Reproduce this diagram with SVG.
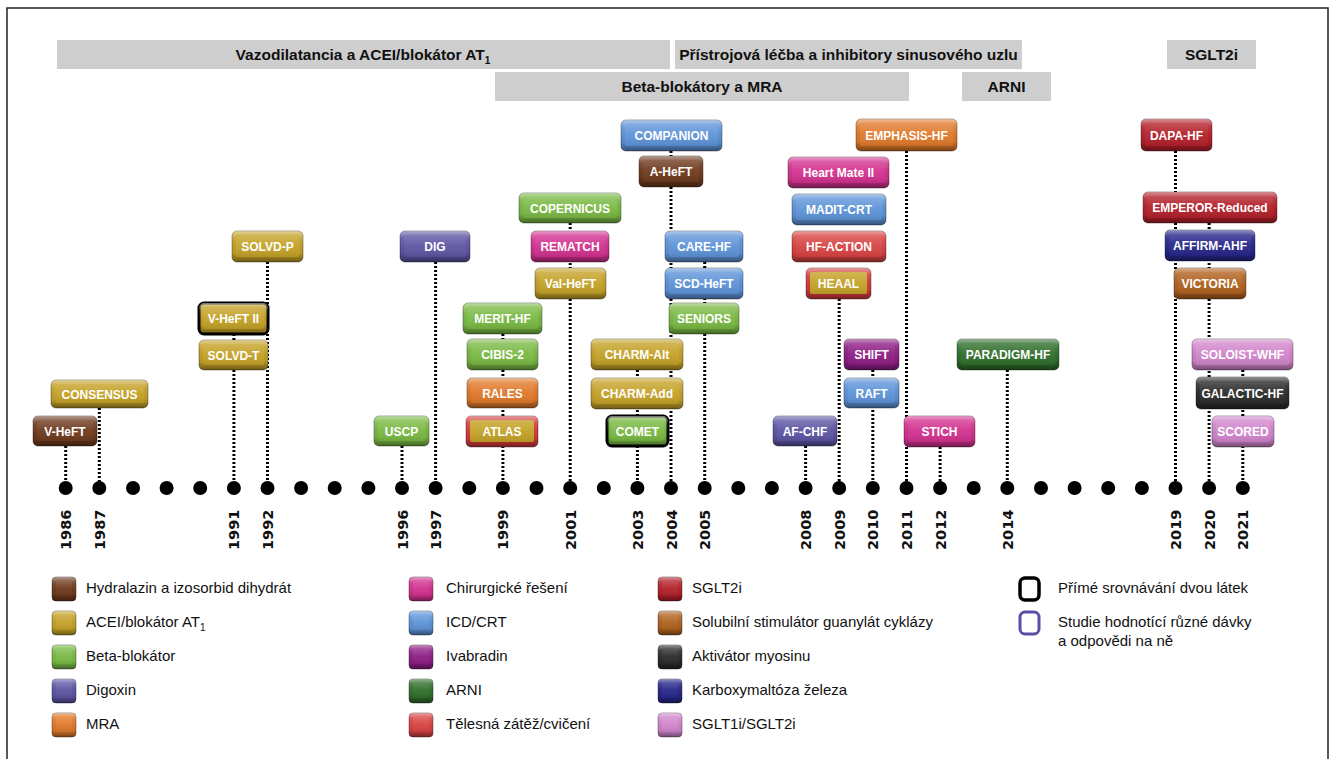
<svg xmlns="http://www.w3.org/2000/svg" width="1331" height="759" viewBox="0 0 1331 759">
<style>
.frame{fill:none;stroke:#222;stroke-width:1.5}
.band{fill:#cecece}
.bandtxt{font-family:"Liberation Sans",Arial,sans-serif;font-weight:bold;font-size:15.5px;fill:#111;text-anchor:middle}
.o{stroke:#000;stroke-opacity:.35;stroke-width:1}
.b{fill:url(#bev)}
.f{fill:url(#face)}
.node text{font-family:"Liberation Sans",Arial,sans-serif;font-weight:bold;font-size:12px;fill:#fff;text-anchor:middle}
.brown .o,.brown .i{fill:#6e3a1e}
.gold .o,.gold .i{fill:#c4a126}
.green .o,.green .i{fill:#79b943}
.slate .o,.slate .i{fill:#5d55a3}
.orange .o,.orange .i{fill:#e0792a}
.magenta .o,.magenta .i{fill:#d2318f}
.blue .o,.blue .i{fill:#5d93d8}
.purple .o,.purple .i{fill:#8e1d84}
.dgreen .o,.dgreen .i{fill:#2f6e2b}
.red .o,.red .i{fill:#d84242}
.dred .o,.dred .i{fill:#b3202a}
.sgc .o,.sgc .i{fill:#b0611f}
.black .o,.black .i{fill:#2b2b2b}
.navy .o,.navy .i{fill:#26268a}
.orchid .o,.orchid .i{fill:#d185cc}
.redrim .o{fill:#d63a3a}
.blackrim .o{stroke:#000;stroke-opacity:1;stroke-width:3}
#connectors line{stroke:#000;stroke-width:3;stroke-dasharray:2 2}
#dots circle{fill:#000}
.year{font-family:"DejaVu Sans",sans-serif;font-weight:bold;font-size:14.5px;fill:#111}
.leg{font-family:"Liberation Sans",Arial,sans-serif;font-size:15px;fill:#111}
</style>
<defs>
<linearGradient id="bev" x1="0" y1="0" x2="0" y2="1">
<stop offset="0" stop-color="#fff" stop-opacity="0.5"/>
<stop offset="0.22" stop-color="#fff" stop-opacity="0.12"/>
<stop offset="0.7" stop-color="#000" stop-opacity="0.05"/>
<stop offset="1" stop-color="#000" stop-opacity="0.45"/>
</linearGradient>
<linearGradient id="face" x1="0" y1="0" x2="0" y2="1">
<stop offset="0" stop-color="#fff" stop-opacity="0.22"/>
<stop offset="0.5" stop-color="#fff" stop-opacity="0.05"/>
<stop offset="1" stop-color="#000" stop-opacity="0.1"/>
</linearGradient>
</defs>

<rect width="1331" height="759" fill="#fff"/>
<path class="frame" d="M7 759 V8 H1328 V759"/>

<g id="bands">
<rect class="band" x="57" y="40" width="613" height="29"/>
<text class="bandtxt" x="363" y="60">Vazodilatancia a ACEI/blokátor AT<tspan dy="4" font-size="10">1</tspan></text>
<rect class="band" x="675" y="40" width="347" height="29"/>
<text class="bandtxt" x="848.5" y="60">Přístrojová léčba a inhibitory sinusového uzlu</text>
<rect class="band" x="1167" y="40" width="89" height="29"/>
<text class="bandtxt" x="1211.5" y="60">SGLT2i</text>
<rect class="band" x="495" y="72" width="414" height="29"/>
<text class="bandtxt" x="702" y="92">Beta-blokátory a MRA</text>
<rect class="band" x="962" y="72" width="89" height="29"/>
<text class="bandtxt" x="1006.5" y="92">ARNI</text>
</g>

<g id="connectors">
<line x1="65.7" y1="446" x2="65.7" y2="488"/>
<line x1="99.3" y1="408" x2="99.3" y2="488"/>
<line x1="233.9" y1="334" x2="233.9" y2="340"/>
<line x1="233.9" y1="370" x2="233.9" y2="488"/>
<line x1="267.5" y1="262" x2="267.5" y2="488"/>
<line x1="402" y1="446" x2="402" y2="488"/>
<line x1="435.6" y1="262" x2="435.6" y2="488"/>
<line x1="502.9" y1="334" x2="502.9" y2="488"/>
<line x1="570.2" y1="223" x2="570.2" y2="488"/>
<line x1="637.4" y1="370" x2="637.4" y2="488"/>
<line x1="671" y1="151" x2="671" y2="488"/>
<line x1="704.7" y1="262" x2="704.7" y2="488"/>
<line x1="805.6" y1="446" x2="805.6" y2="488"/>
<line x1="839.2" y1="299" x2="839.2" y2="488"/>
<line x1="872.8" y1="370" x2="872.8" y2="488"/>
<line x1="906.5" y1="151" x2="906.5" y2="488"/>
<line x1="940.1" y1="447" x2="940.1" y2="488"/>
<line x1="1007.3" y1="370" x2="1007.3" y2="488"/>
<line x1="1175.5" y1="151" x2="1175.5" y2="488"/>
<line x1="1209.1" y1="223" x2="1209.1" y2="488"/>
<line x1="1242.8" y1="370" x2="1242.8" y2="488"/>
</g>

<g id="nodes">
<g id="n-vheft" class="node brown" transform="translate(33 416)"><rect class="o" width="64" height="30" rx="5"/><rect class="b" width="64" height="30" rx="5"/><rect class="i" x="4" y="4" width="56" height="21" rx="2"/><rect class="f" x="4" y="4" width="56" height="21" rx="2"/><text x="32" y="19.5">V-HeFT</text></g>
<g id="n-consensus" class="node gold" transform="translate(51 380)"><rect class="o" width="97" height="28" rx="5"/><rect class="b" width="97" height="28" rx="5"/><rect class="i" x="4" y="4" width="89" height="19" rx="2"/><rect class="f" x="4" y="4" width="89" height="19" rx="2"/><text x="48.5" y="18.5">CONSENSUS</text></g>
<g id="n-vheft2" class="node gold blackrim" transform="translate(199 303)"><rect class="o" width="69" height="31" rx="5"/><rect class="b" width="69" height="31" rx="5"/><rect class="i" x="4" y="4" width="61" height="22" rx="2"/><rect class="f" x="4" y="4" width="61" height="22" rx="2"/><text x="34.5" y="20">V-HeFT II</text></g>
<g id="n-solvdt" class="node gold" transform="translate(199 340)"><rect class="o" width="69" height="30" rx="5"/><rect class="b" width="69" height="30" rx="5"/><rect class="i" x="4" y="4" width="61" height="21" rx="2"/><rect class="f" x="4" y="4" width="61" height="21" rx="2"/><text x="34.5" y="19.5">SOLVD-T</text></g>
<g id="n-solvdp" class="node gold" transform="translate(232 231)"><rect class="o" width="71" height="31" rx="5"/><rect class="b" width="71" height="31" rx="5"/><rect class="i" x="4" y="4" width="63" height="22" rx="2"/><rect class="f" x="4" y="4" width="63" height="22" rx="2"/><text x="35.5" y="20">SOLVD-P</text></g>
<g id="n-uscp" class="node green" transform="translate(374 416)"><rect class="o" width="55" height="30" rx="5"/><rect class="b" width="55" height="30" rx="5"/><rect class="i" x="4" y="4" width="47" height="21" rx="2"/><rect class="f" x="4" y="4" width="47" height="21" rx="2"/><text x="27.5" y="19.5">USCP</text></g>
<g id="n-dig" class="node slate" transform="translate(400 231)"><rect class="o" width="70" height="31" rx="5"/><rect class="b" width="70" height="31" rx="5"/><rect class="i" x="4" y="4" width="62" height="22" rx="2"/><rect class="f" x="4" y="4" width="62" height="22" rx="2"/><text x="35" y="20">DIG</text></g>
<g id="n-copernicus" class="node green" transform="translate(519 193)"><rect class="o" width="102" height="30" rx="5"/><rect class="b" width="102" height="30" rx="5"/><rect class="i" x="4" y="4" width="94" height="21" rx="2"/><rect class="f" x="4" y="4" width="94" height="21" rx="2"/><text x="51" y="19.5">COPERNICUS</text></g>
<g id="n-rematch" class="node magenta" transform="translate(531 231)"><rect class="o" width="78" height="31" rx="5"/><rect class="b" width="78" height="31" rx="5"/><rect class="i" x="4" y="4" width="70" height="22" rx="2"/><rect class="f" x="4" y="4" width="70" height="22" rx="2"/><text x="39" y="20">REMATCH</text></g>
<g id="n-valheft" class="node gold" transform="translate(535 268)"><rect class="o" width="71" height="31" rx="5"/><rect class="b" width="71" height="31" rx="5"/><rect class="i" x="4" y="4" width="63" height="22" rx="2"/><rect class="f" x="4" y="4" width="63" height="22" rx="2"/><text x="35.5" y="20">Val-HeFT</text></g>
<g id="n-merit" class="node green" transform="translate(463 303)"><rect class="o" width="79" height="31" rx="5"/><rect class="b" width="79" height="31" rx="5"/><rect class="i" x="4" y="4" width="71" height="22" rx="2"/><rect class="f" x="4" y="4" width="71" height="22" rx="2"/><text x="39.5" y="20">MERIT-HF</text></g>
<g id="n-cibis" class="node green" transform="translate(467 339)"><rect class="o" width="71" height="31" rx="5"/><rect class="b" width="71" height="31" rx="5"/><rect class="i" x="4" y="4" width="63" height="22" rx="2"/><rect class="f" x="4" y="4" width="63" height="22" rx="2"/><text x="35.5" y="20">CIBIS-2</text></g>
<g id="n-rales" class="node orange" transform="translate(467 378)"><rect class="o" width="71" height="30" rx="5"/><rect class="b" width="71" height="30" rx="5"/><rect class="i" x="4" y="4" width="63" height="21" rx="2"/><rect class="f" x="4" y="4" width="63" height="21" rx="2"/><text x="35.5" y="19.5">RALES</text></g>
<g id="n-atlas" class="node gold redrim" transform="translate(466 416)"><rect class="o" width="72" height="31" rx="5"/><rect class="b" width="72" height="31" rx="5"/><rect class="i" x="4" y="4" width="64" height="22" rx="2"/><rect class="f" x="4" y="4" width="64" height="22" rx="2"/><text x="36" y="20">ATLAS</text></g>
<g id="n-charmalt" class="node gold" transform="translate(591 339)"><rect class="o" width="92" height="31" rx="5"/><rect class="b" width="92" height="31" rx="5"/><rect class="i" x="4" y="4" width="84" height="22" rx="2"/><rect class="f" x="4" y="4" width="84" height="22" rx="2"/><text x="46" y="20">CHARM-Alt</text></g>
<g id="n-charmadd" class="node gold" transform="translate(591 378)"><rect class="o" width="92" height="31" rx="5"/><rect class="b" width="92" height="31" rx="5"/><rect class="i" x="4" y="4" width="84" height="22" rx="2"/><rect class="f" x="4" y="4" width="84" height="22" rx="2"/><text x="46" y="20">CHARM-Add</text></g>
<g id="n-comet" class="node green blackrim" transform="translate(607 416)"><rect class="o" width="61" height="30" rx="5"/><rect class="b" width="61" height="30" rx="5"/><rect class="i" x="4" y="4" width="53" height="21" rx="2"/><rect class="f" x="4" y="4" width="53" height="21" rx="2"/><text x="30.5" y="19.5">COMET</text></g>
<g id="n-companion" class="node blue" transform="translate(621 120)"><rect class="o" width="101" height="31" rx="5"/><rect class="b" width="101" height="31" rx="5"/><rect class="i" x="4" y="4" width="93" height="22" rx="2"/><rect class="f" x="4" y="4" width="93" height="22" rx="2"/><text x="50.5" y="20">COMPANION</text></g>
<g id="n-aheft" class="node brown" transform="translate(639 156)"><rect class="o" width="64" height="31" rx="5"/><rect class="b" width="64" height="31" rx="5"/><rect class="i" x="4" y="4" width="56" height="22" rx="2"/><rect class="f" x="4" y="4" width="56" height="22" rx="2"/><text x="32" y="20">A-HeFT</text></g>
<g id="n-carehf" class="node blue" transform="translate(665 231)"><rect class="o" width="78" height="31" rx="5"/><rect class="b" width="78" height="31" rx="5"/><rect class="i" x="4" y="4" width="70" height="22" rx="2"/><rect class="f" x="4" y="4" width="70" height="22" rx="2"/><text x="39" y="20">CARE-HF</text></g>
<g id="n-scdheft" class="node blue" transform="translate(665 268)"><rect class="o" width="78" height="31" rx="5"/><rect class="b" width="78" height="31" rx="5"/><rect class="i" x="4" y="4" width="70" height="22" rx="2"/><rect class="f" x="4" y="4" width="70" height="22" rx="2"/><text x="39" y="20">SCD-HeFT</text></g>
<g id="n-seniors" class="node green" transform="translate(669 303)"><rect class="o" width="70" height="31" rx="5"/><rect class="b" width="70" height="31" rx="5"/><rect class="i" x="4" y="4" width="62" height="22" rx="2"/><rect class="f" x="4" y="4" width="62" height="22" rx="2"/><text x="35" y="20">SENIORS</text></g>
<g id="n-afchf" class="node slate" transform="translate(773 416)"><rect class="o" width="64" height="30" rx="5"/><rect class="b" width="64" height="30" rx="5"/><rect class="i" x="4" y="4" width="56" height="21" rx="2"/><rect class="f" x="4" y="4" width="56" height="21" rx="2"/><text x="32" y="19.5">AF-CHF</text></g>
<g id="n-heartmate" class="node magenta" transform="translate(788 157)"><rect class="o" width="101" height="31" rx="5"/><rect class="b" width="101" height="31" rx="5"/><rect class="i" x="4" y="4" width="93" height="22" rx="2"/><rect class="f" x="4" y="4" width="93" height="22" rx="2"/><text x="50.5" y="20">Heart Mate II</text></g>
<g id="n-maditcrt" class="node blue" transform="translate(792 194)"><rect class="o" width="94" height="31" rx="5"/><rect class="b" width="94" height="31" rx="5"/><rect class="i" x="4" y="4" width="86" height="22" rx="2"/><rect class="f" x="4" y="4" width="86" height="22" rx="2"/><text x="47" y="20">MADIT-CRT</text></g>
<g id="n-hfaction" class="node red" transform="translate(792 231)"><rect class="o" width="94" height="31" rx="5"/><rect class="b" width="94" height="31" rx="5"/><rect class="i" x="4" y="4" width="86" height="22" rx="2"/><rect class="f" x="4" y="4" width="86" height="22" rx="2"/><text x="47" y="20">HF-ACTION</text></g>
<g id="n-heaal" class="node gold redrim" transform="translate(806 268)"><rect class="o" width="65" height="31" rx="5"/><rect class="b" width="65" height="31" rx="5"/><rect class="i" x="4" y="4" width="57" height="22" rx="2"/><rect class="f" x="4" y="4" width="57" height="22" rx="2"/><text x="32.5" y="20">HEAAL</text></g>
<g id="n-shift" class="node purple" transform="translate(844 339)"><rect class="o" width="55" height="31" rx="5"/><rect class="b" width="55" height="31" rx="5"/><rect class="i" x="4" y="4" width="47" height="22" rx="2"/><rect class="f" x="4" y="4" width="47" height="22" rx="2"/><text x="27.5" y="20">SHIFT</text></g>
<g id="n-raft" class="node blue" transform="translate(844 378)"><rect class="o" width="55" height="30" rx="5"/><rect class="b" width="55" height="30" rx="5"/><rect class="i" x="4" y="4" width="47" height="21" rx="2"/><rect class="f" x="4" y="4" width="47" height="21" rx="2"/><text x="27.5" y="19.5">RAFT</text></g>
<g id="n-emphasis" class="node orange" transform="translate(856 119)"><rect class="o" width="101" height="32" rx="5"/><rect class="b" width="101" height="32" rx="5"/><rect class="i" x="4" y="4" width="93" height="23" rx="2"/><rect class="f" x="4" y="4" width="93" height="23" rx="2"/><text x="50.5" y="20.5">EMPHASIS-HF</text></g>
<g id="n-stich" class="node magenta" transform="translate(904 416)"><rect class="o" width="71" height="31" rx="5"/><rect class="b" width="71" height="31" rx="5"/><rect class="i" x="4" y="4" width="63" height="22" rx="2"/><rect class="f" x="4" y="4" width="63" height="22" rx="2"/><text x="35.5" y="20">STICH</text></g>
<g id="n-paradigm" class="node dgreen" transform="translate(957 339)"><rect class="o" width="102" height="31" rx="5"/><rect class="b" width="102" height="31" rx="5"/><rect class="i" x="4" y="4" width="94" height="22" rx="2"/><rect class="f" x="4" y="4" width="94" height="22" rx="2"/><text x="51" y="20">PARADIGM-HF</text></g>
<g id="n-dapahf" class="node dred" transform="translate(1141 119)"><rect class="o" width="71" height="32" rx="5"/><rect class="b" width="71" height="32" rx="5"/><rect class="i" x="4" y="4" width="63" height="23" rx="2"/><rect class="f" x="4" y="4" width="63" height="23" rx="2"/><text x="35.5" y="20.5">DAPA-HF</text></g>
<g id="n-emperor" class="node dred" transform="translate(1143 192)"><rect class="o" width="134" height="31" rx="5"/><rect class="b" width="134" height="31" rx="5"/><rect class="i" x="4" y="4" width="126" height="22" rx="2"/><rect class="f" x="4" y="4" width="126" height="22" rx="2"/><text x="67" y="20">EMPEROR-Reduced</text></g>
<g id="n-affirm" class="node navy" transform="translate(1165 230)"><rect class="o" width="90" height="31" rx="5"/><rect class="b" width="90" height="31" rx="5"/><rect class="i" x="4" y="4" width="82" height="22" rx="2"/><rect class="f" x="4" y="4" width="82" height="22" rx="2"/><text x="45" y="20">AFFIRM-AHF</text></g>
<g id="n-victoria" class="node sgc" transform="translate(1174 268)"><rect class="o" width="72" height="31" rx="5"/><rect class="b" width="72" height="31" rx="5"/><rect class="i" x="4" y="4" width="64" height="22" rx="2"/><rect class="f" x="4" y="4" width="64" height="22" rx="2"/><text x="36" y="20">VICTORIA</text></g>
<g id="n-soloist" class="node orchid" transform="translate(1192 339)"><rect class="o" width="101" height="31" rx="5"/><rect class="b" width="101" height="31" rx="5"/><rect class="i" x="4" y="4" width="93" height="22" rx="2"/><rect class="f" x="4" y="4" width="93" height="22" rx="2"/><text x="50.5" y="20">SOLOIST-WHF</text></g>
<g id="n-galactic" class="node black" transform="translate(1196 377)"><rect class="o" width="93" height="32" rx="5"/><rect class="b" width="93" height="32" rx="5"/><rect class="i" x="4" y="4" width="85" height="23" rx="2"/><rect class="f" x="4" y="4" width="85" height="23" rx="2"/><text x="46.5" y="20.5">GALACTIC-HF</text></g>
<g id="n-scored" class="node orchid" transform="translate(1212 416)"><rect class="o" width="62" height="31" rx="5"/><rect class="b" width="62" height="31" rx="5"/><rect class="i" x="4" y="4" width="54" height="22" rx="2"/><rect class="f" x="4" y="4" width="54" height="22" rx="2"/><text x="31" y="20">SCORED</text></g>
</g>

<g id="dots">
<circle cx="65.7" cy="488" r="7"/><circle cx="99.3" cy="488" r="7"/><circle cx="133" cy="488" r="7"/><circle cx="166.6" cy="488" r="7"/><circle cx="200.2" cy="488" r="7"/><circle cx="233.9" cy="488" r="7"/><circle cx="267.5" cy="488" r="7"/><circle cx="301.1" cy="488" r="7"/><circle cx="334.7" cy="488" r="7"/><circle cx="368.4" cy="488" r="7"/><circle cx="402" cy="488" r="7"/><circle cx="435.6" cy="488" r="7"/><circle cx="469.3" cy="488" r="7"/><circle cx="502.9" cy="488" r="7"/><circle cx="536.5" cy="488" r="7"/><circle cx="570.2" cy="488" r="7"/><circle cx="603.8" cy="488" r="7"/><circle cx="637.4" cy="488" r="7"/><circle cx="671" cy="488" r="7"/><circle cx="704.7" cy="488" r="7"/><circle cx="738.3" cy="488" r="7"/><circle cx="771.9" cy="488" r="7"/><circle cx="805.6" cy="488" r="7"/><circle cx="839.2" cy="488" r="7"/><circle cx="872.8" cy="488" r="7"/><circle cx="906.5" cy="488" r="7"/><circle cx="940.1" cy="488" r="7"/><circle cx="973.7" cy="488" r="7"/><circle cx="1007.3" cy="488" r="7"/><circle cx="1041" cy="488" r="7"/><circle cx="1074.6" cy="488" r="7"/><circle cx="1108.2" cy="488" r="7"/><circle cx="1141.9" cy="488" r="7"/><circle cx="1175.5" cy="488" r="7"/><circle cx="1209.1" cy="488" r="7"/><circle cx="1242.8" cy="488" r="7"/>
</g>

<g id="years">
<text class="year" transform="translate(71.2 550) rotate(-90)">1986</text>
<text class="year" transform="translate(104.8 550) rotate(-90)">1987</text>
<text class="year" transform="translate(239.4 550) rotate(-90)">1991</text>
<text class="year" transform="translate(273 550) rotate(-90)">1992</text>
<text class="year" transform="translate(407.5 550) rotate(-90)">1996</text>
<text class="year" transform="translate(441.1 550) rotate(-90)">1997</text>
<text class="year" transform="translate(508.4 550) rotate(-90)">1999</text>
<text class="year" transform="translate(575.7 550) rotate(-90)">2001</text>
<text class="year" transform="translate(642.9 550) rotate(-90)">2003</text>
<text class="year" transform="translate(676.5 550) rotate(-90)">2004</text>
<text class="year" transform="translate(710.2 550) rotate(-90)">2005</text>
<text class="year" transform="translate(811.1 550) rotate(-90)">2008</text>
<text class="year" transform="translate(844.7 550) rotate(-90)">2009</text>
<text class="year" transform="translate(878.3 550) rotate(-90)">2010</text>
<text class="year" transform="translate(912 550) rotate(-90)">2011</text>
<text class="year" transform="translate(945.6 550) rotate(-90)">2012</text>
<text class="year" transform="translate(1012.8 550) rotate(-90)">2014</text>
<text class="year" transform="translate(1181 550) rotate(-90)">2019</text>
<text class="year" transform="translate(1214.6 550) rotate(-90)">2020</text>
<text class="year" transform="translate(1248.3 550) rotate(-90)">2021</text>
</g>

<g id="legend">
<g class="node brown" transform="translate(52 577)"><rect class="o" width="24" height="24" rx="4"/><rect class="b" width="24" height="24" rx="4"/><rect class="i" x="4" y="4" width="16" height="15" rx="1"/><rect class="f" x="4" y="4" width="16" height="15" rx="1"/></g>
<text class="leg" x="86" y="593">Hydralazin a izosorbid dihydrát</text>
<g class="node gold" transform="translate(52 611)"><rect class="o" width="24" height="24" rx="4"/><rect class="b" width="24" height="24" rx="4"/><rect class="i" x="4" y="4" width="16" height="15" rx="1"/><rect class="f" x="4" y="4" width="16" height="15" rx="1"/></g>
<text class="leg" x="86" y="627">ACEI/blokátor AT<tspan dy="4" font-size="10">1</tspan></text>
<g class="node green" transform="translate(52 645)"><rect class="o" width="24" height="24" rx="4"/><rect class="b" width="24" height="24" rx="4"/><rect class="i" x="4" y="4" width="16" height="15" rx="1"/><rect class="f" x="4" y="4" width="16" height="15" rx="1"/></g>
<text class="leg" x="86" y="661">Beta-blokátor</text>
<g class="node slate" transform="translate(52 679)"><rect class="o" width="24" height="24" rx="4"/><rect class="b" width="24" height="24" rx="4"/><rect class="i" x="4" y="4" width="16" height="15" rx="1"/><rect class="f" x="4" y="4" width="16" height="15" rx="1"/></g>
<text class="leg" x="86" y="695">Digoxin</text>
<g class="node orange" transform="translate(52 713)"><rect class="o" width="24" height="24" rx="4"/><rect class="b" width="24" height="24" rx="4"/><rect class="i" x="4" y="4" width="16" height="15" rx="1"/><rect class="f" x="4" y="4" width="16" height="15" rx="1"/></g>
<text class="leg" x="86" y="729">MRA</text>

<g class="node magenta" transform="translate(409 577)"><rect class="o" width="24" height="24" rx="4"/><rect class="b" width="24" height="24" rx="4"/><rect class="i" x="4" y="4" width="16" height="15" rx="1"/><rect class="f" x="4" y="4" width="16" height="15" rx="1"/></g>
<text class="leg" x="446" y="593">Chirurgické řešení</text>
<g class="node blue" transform="translate(409 611)"><rect class="o" width="24" height="24" rx="4"/><rect class="b" width="24" height="24" rx="4"/><rect class="i" x="4" y="4" width="16" height="15" rx="1"/><rect class="f" x="4" y="4" width="16" height="15" rx="1"/></g>
<text class="leg" x="446" y="627">ICD/CRT</text>
<g class="node purple" transform="translate(409 645)"><rect class="o" width="24" height="24" rx="4"/><rect class="b" width="24" height="24" rx="4"/><rect class="i" x="4" y="4" width="16" height="15" rx="1"/><rect class="f" x="4" y="4" width="16" height="15" rx="1"/></g>
<text class="leg" x="446" y="661">Ivabradin</text>
<g class="node dgreen" transform="translate(409 679)"><rect class="o" width="24" height="24" rx="4"/><rect class="b" width="24" height="24" rx="4"/><rect class="i" x="4" y="4" width="16" height="15" rx="1"/><rect class="f" x="4" y="4" width="16" height="15" rx="1"/></g>
<text class="leg" x="446" y="695">ARNI</text>
<g class="node red" transform="translate(409 713)"><rect class="o" width="24" height="24" rx="4"/><rect class="b" width="24" height="24" rx="4"/><rect class="i" x="4" y="4" width="16" height="15" rx="1"/><rect class="f" x="4" y="4" width="16" height="15" rx="1"/></g>
<text class="leg" x="446" y="729">Tělesná zátěž/cvičení</text>

<g class="node dred" transform="translate(658 577)"><rect class="o" width="24" height="24" rx="4"/><rect class="b" width="24" height="24" rx="4"/><rect class="i" x="4" y="4" width="16" height="15" rx="1"/><rect class="f" x="4" y="4" width="16" height="15" rx="1"/></g>
<text class="leg" x="692" y="593">SGLT2i</text>
<g class="node sgc" transform="translate(658 611)"><rect class="o" width="24" height="24" rx="4"/><rect class="b" width="24" height="24" rx="4"/><rect class="i" x="4" y="4" width="16" height="15" rx="1"/><rect class="f" x="4" y="4" width="16" height="15" rx="1"/></g>
<text class="leg" x="692" y="627">Solubilní stimulátor guanylát cyklázy</text>
<g class="node black" transform="translate(658 645)"><rect class="o" width="24" height="24" rx="4"/><rect class="b" width="24" height="24" rx="4"/><rect class="i" x="4" y="4" width="16" height="15" rx="1"/><rect class="f" x="4" y="4" width="16" height="15" rx="1"/></g>
<text class="leg" x="692" y="661">Aktivátor myosinu</text>
<g class="node navy" transform="translate(658 679)"><rect class="o" width="24" height="24" rx="4"/><rect class="b" width="24" height="24" rx="4"/><rect class="i" x="4" y="4" width="16" height="15" rx="1"/><rect class="f" x="4" y="4" width="16" height="15" rx="1"/></g>
<text class="leg" x="692" y="695">Karboxymaltóza železa</text>
<g class="node orchid" transform="translate(658 713)"><rect class="o" width="24" height="24" rx="4"/><rect class="b" width="24" height="24" rx="4"/><rect class="i" x="4" y="4" width="16" height="15" rx="1"/><rect class="f" x="4" y="4" width="16" height="15" rx="1"/></g>
<text class="leg" x="692" y="729">SGLT1i/SGLT2i</text>

<rect x="1020" y="578" width="19" height="22" rx="5" fill="#fff" stroke="#000" stroke-width="3.5"/>
<text class="leg" x="1058" y="593">Přímé srovnávání dvou látek</text>
<rect x="1020" y="612" width="19" height="22" rx="5" fill="#fff" stroke="#5a4fa5" stroke-width="3"/>
<text class="leg" x="1058" y="627">Studie hodnotící různé dávky</text>
<text class="leg" x="1058" y="646">a odpovědi na ně</text>
</g>
</svg>
